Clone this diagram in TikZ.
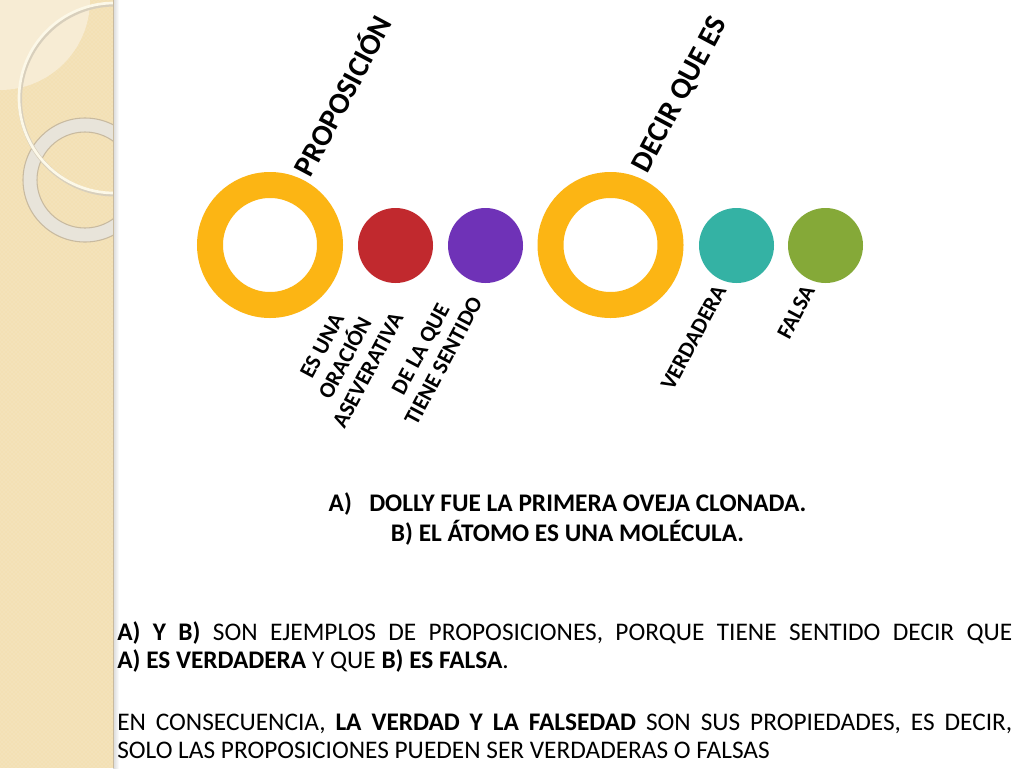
\documentclass[tikz,border=0pt]{standalone}
\usepackage{fontspec}
\setmainfont{Carlito}
\usetikzlibrary{patterns}
\definecolor{ringorange}{RGB}{252,181,20}
\definecolor{dotred}{RGB}{193,41,46}
\definecolor{dotpurple}{RGB}{111,50,183}
\definecolor{dotteal}{RGB}{52,178,164}
\definecolor{dotgreen}{RGB}{133,169,56}
\definecolor{stripbeige}{RGB}{243,224,180}
\definecolor{striplight}{RGB}{247,236,212}
\definecolor{ringcream}{RGB}{252,248,232}
\definecolor{ringgrey}{RGB}{232,228,218}
\definecolor{ringedge}{RGB}{200,186,160}
\begin{document}
\begin{tikzpicture}[x=0.75pt,y=-0.75pt,
 ringnode/.style={circle,draw=ringorange,line width=19.5pt,minimum size=90pt,inner sep=0pt},
 dotnode/.style={circle,minimum size=56.25pt,inner sep=0pt},
 biglabel/.style={rotate=62,font=\bfseries\fontsize{22.5}{27}\selectfont,inner sep=0pt},
 smalllabel/.style={rotate=62,align=center,font=\bfseries\fontsize{16.8}{19.5}\selectfont,inner sep=0pt},
 bodytext/.style={anchor=base west,inner sep=0pt,font=\fontsize{19}{21}\selectfont},
 titletext/.style={anchor=base,inner sep=0pt,font=\bfseries\fontsize{19}{21}\selectfont}]
\useasboundingbox (0,0) rectangle (1024,768);
\fill[white] (0,0) rectangle (1024,768);
% decorative strip
\begin{scope}
\clip (0,0) rectangle (113,768);
\fill[stripbeige] (0,0) rectangle (113,768);
\fill[pattern=crosshatch dots,pattern color=white,opacity=0.35] (0,0) rectangle (113,768);
\fill[striplight] (0,0) circle[radius=90];
\fill[ringgrey,even odd rule] (85,180) circle[radius=62] (85,180) circle[radius=48];
\draw[ringedge,line width=0.8pt] (85,180) circle[radius=62];
\draw[ringedge,line width=0.8pt] (85,180) circle[radius=48];
\draw[ringedge!70!white,line width=3pt] (115,99.5) circle[radius=95];
\draw[ringcream,line width=2pt] (114,98) circle[radius=95];
\end{scope}
\shade[left color=black!15,right color=white] (113,0) rectangle (119,768);
\draw[ringedge,line width=0.6pt] (113,0) -- (113,768);
% circles
\node[ringnode] (prop) at (270,245) {};
\node[dotnode,fill=dotred] (red) at (395.5,245.5) {};
\node[dotnode,fill=dotpurple] (purple) at (485.5,245.5) {};
\node[ringnode] (decir) at (610.5,245) {};
\node[dotnode,fill=dotteal] (teal) at (736.5,245.5) {};
\node[dotnode,fill=dotgreen] (green) at (825.5,245.5) {};
% labels
\node[biglabel] (lprop) at (341,95) {PROPOSICIÓN};
\node[biglabel] (ldecir) at (680.5,95) {DECIR QUE ES};
\node[smalllabel] (lred) at (345,358) {ES UNA\\ORACIÓN\\ASEVERATIVA};
\node[smalllabel] (lpurple) at (432,355) {DE LA QUE\\TIENE SENTIDO};
\node[smalllabel] (lteal) at (693.5,337.5) {VERDADERA};
\node[smalllabel] (lgreen) at (796,312) {FALSA};
% examples
\node[titletext] (exa) at (567.5,511) {A)\hspace{13pt}DOLLY FUE LA PRIMERA OVEJA CLONADA.};
\node[titletext] (exb) at (567.5,541) {B) EL ÁTOMO ES UNA MOLÉCULA.};
% paragraphs
\node[bodytext] (p1) at (117,640) {\makebox[671.25pt][s]{\textbf{A) Y B)} SON EJEMPLOS DE PROPOSICIONES, PORQUE TIENE SENTIDO DECIR QUE}};
\node[bodytext] (p2) at (117,668) {\textbf{A) ES VERDADERA} Y QUE \textbf{B) ES FALSA}.};
\node[bodytext] (p3) at (117,730) {\makebox[671.25pt][s]{EN CONSECUENCIA, \textbf{LA VERDAD Y LA FALSEDAD} SON SUS PROPIEDADES, ES DECIR,}};
\node[bodytext] (p4) at (117,758) {SOLO LAS PROPOSICIONES PUEDEN SER VERDADERAS O FALSAS};
\end{tikzpicture}
\end{document}
